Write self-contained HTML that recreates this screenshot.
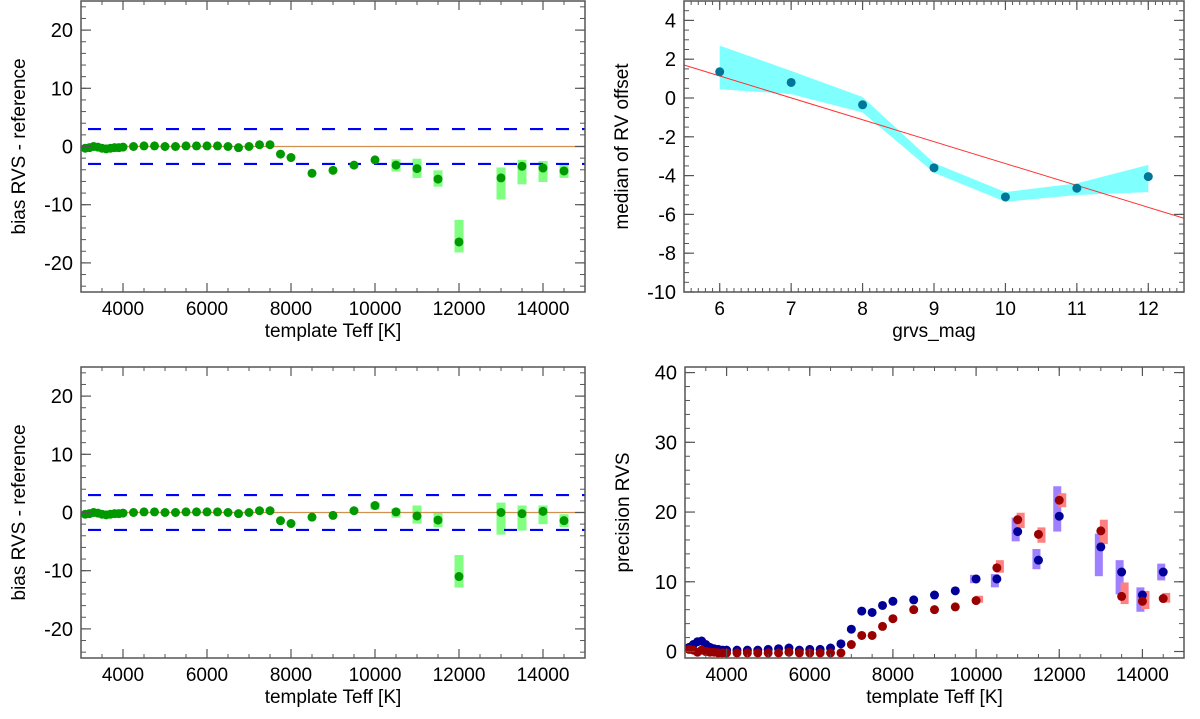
<!DOCTYPE html>
<html><head><meta charset="utf-8"><style>
html,body{margin:0;padding:0;background:#fff;}
svg{display:block;font-family:"Liberation Sans",Arial,sans-serif;}
</style></head><body>
<svg id="fig" width="1200" height="719" viewBox="0 0 1200 719" xmlns="http://www.w3.org/2000/svg"></svg>
<script>
// ---------- data ----------
const tlTeff = [3100,3200,3300,3400,3500,3600,3700,3800,3900,4000,4250,4500,4750,5000,5250,5500,5750,6000,6250,6500,6750,7000,7250,7500,7750,8000,8500,9000,9500,10000,10500,11000,11500,12000,13000,13500,14000,14500];
const tlBias = [-0.3,-0.2,0,-0.1,-0.3,-0.4,-0.3,-0.2,-0.2,-0.1,0,0.1,0.1,0,0,0.1,0.1,0.1,0.1,0,-0.2,0,0.3,-1.3,-1.9,-4.6,-4.1,-3.2,-2.3,-3.2,-3.8,-5.6,-16.4,-5.4,-3.4,-3.7,-4.2].slice(0);
const tlBiasFull = [-0.3,-0.2,0,-0.1,-0.3,-0.4,-0.3,-0.2,-0.2,-0.1,0,0.1,0.1,0,0,0.1,0.1,0.1,0.1,0,-0.2,0,0.3,0.3,-1.3,-1.9,-4.6,-4.1,-3.2,-2.3,-3.2,-3.8,-5.6,-16.4,-5.4,-3.4,-3.7,-4.2];
const tlErrHi = [null,null,null,null,null,null,null,null,null,null,null,null,null,null,null,null,null,null,null,null,null,null,null,null,null,null,null,null,null,null,-2.2,-2.1,-4.1,-12.6,-3.6,-2.3,-2.5,-3.2];
const tlErrLo = [null,null,null,null,null,null,null,null,null,null,null,null,null,null,null,null,null,null,null,null,null,null,null,null,null,null,null,null,null,null,-4.3,-5.4,-6.9,-18.2,-9.1,-6.5,-6.1,-5.4];

const blBias = [-0.3,-0.2,0,-0.1,-0.3,-0.4,-0.3,-0.2,-0.2,-0.1,0,0.1,0.1,0,0,0.1,0.1,0.1,0.1,0,-0.2,0,0.3,0.3,-1.4,-1.9,-0.8,-0.5,0.3,1.2,0.1,-0.6,-1.3,-11.0,0,-0.2,0.2,-1.4];
const blErrHi = [null,null,null,null,null,null,null,null,null,null,null,null,null,null,null,null,null,null,null,null,null,null,null,null,null,null,null,null,null,1.7,0.7,1.2,0.1,-7.3,1.7,1.2,1.2,-0.3];
const blErrLo = [null,null,null,null,null,null,null,null,null,null,null,null,null,null,null,null,null,null,null,null,null,null,null,null,null,null,null,null,null,0.5,-0.9,-1.9,-2.5,-12.9,-3.8,-3.1,-2.0,-2.5];

const trMag = [6,7,8,9,10,11,12];
const trMedian = [1.35,0.8,-0.35,-3.6,-5.1,-4.65,-4.05];
const trBandHi = [2.7,1.4,0.05,-3.35,-4.85,-4.4,-3.45];
const trBandLo = [0.45,0.2,-0.75,-3.85,-5.35,-5.0,-4.85];
const trFitX = [5.5,12.5];
const trFitY = [1.7,-6.2];

const brTeff = [3100,3200,3300,3400,3500,3600,3700,3800,3900,4000,4250,4500,4750,5000,5250,5500,5750,6000,6250,6500,6750,7000,7250,7500,7750,8000,8500,9000,9500,10000,10500,11000,11500,12000,13000,13500,14000,14500];
const brBlue = [0.6,1.0,1.4,1.5,1.0,0.6,0.4,0.3,0.2,0.2,0.2,0.2,0.2,0.3,0.4,0.5,0.2,0.3,0.3,0.5,1.1,3.2,5.8,5.6,6.6,7.2,7.4,8.1,8.7,10.4,10.4,17.2,13.1,19.4,15.0,11.4,8.1,11.4];
const brRed = [0.3,0.2,-0.1,0.2,0,-0.1,-0.1,-0.2,-0.2,-0.2,-0.2,-0.2,-0.2,-0.2,-0.2,-0.1,-0.2,-0.2,-0.2,-0.2,-0.2,1.0,2.3,2.3,3.6,4.7,6.0,6.0,6.4,7.3,12.0,18.9,16.8,21.7,17.3,7.9,7.2,7.6];
const brBlueHi = [null,null,null,null,null,null,null,null,null,null,null,null,null,null,null,null,null,null,null,null,null,null,null,null,null,null,null,null,null,11.0,11.1,19.2,14.7,23.7,16.9,13.1,9.2,12.6];
const brBlueLo = [null,null,null,null,null,null,null,null,null,null,null,null,null,null,null,null,null,null,null,null,null,null,null,null,null,null,null,null,null,9.8,9.2,15.8,11.8,17.2,10.8,8.2,5.7,10.2];
const brRedHi = [null,null,null,null,null,null,null,null,null,null,null,null,null,null,null,null,null,null,null,null,null,null,null,null,null,null,null,null,null,8.0,13.1,19.9,17.8,22.7,18.9,9.9,8.7,8.4];
const brRedLo = [null,null,null,null,null,null,null,null,null,null,null,null,null,null,null,null,null,null,null,null,null,null,null,null,null,null,null,null,null,7.0,11.3,17.7,15.6,20.7,15.4,6.8,6.1,7.0];

const teffTicks = [4000,6000,8000,10000,12000,14000];
const biasTicks = [-20,-10,0,10,20];
const magTicks = [6,7,8,9,10,11,12];
const medTicks = [-10,-8,-6,-4,-2,0,2,4];
const precTicks = [0,10,20,30,40];

// ---------- helpers ----------
const NS = "http://www.w3.org/2000/svg";
const svg = document.getElementById('fig');
function mk(tag, attrs, parent){
  const e = document.createElementNS(NS, tag);
  for (const k in attrs) e.setAttribute(k, attrs[k]);
  (parent||svg).appendChild(e);
  return e;
}
function scale(d0,d1,r0,r1){ return v => r0 + (v-d0)/(d1-d0)*(r1-r0); }

function panel(name, box, xd, yd, xt, xminor, yt, yminor, xlabel, ylabel){
  const g = mk('g', {});
  
  
  const X = scale(xd[0],xd[1],box.x0,box.x1);
  const Y = scale(yd[0],yd[1],box.y1,box.y0);
  const data = mk('g', {}, g);
  
  
  const axes = mk('g', {}, g);
  
  
  mk('rect', {x:box.x0, y:box.y0, width:box.x1-box.x0, height:box.y1-box.y0, fill:'none', stroke:'#555', 'stroke-width':1.5}, axes);
  const tk = '#555';
  // minor ticks
  for (let v = Math.ceil(xd[0]/xminor)*xminor; v <= xd[1]+1e-9; v += xminor){
    const x = X(v);
    mk('line',{x1:x,x2:x,y1:box.y1,y2:box.y1-4,stroke:tk,'stroke-width':1},axes);
    mk('line',{x1:x,x2:x,y1:box.y0,y2:box.y0+4,stroke:tk,'stroke-width':1},axes);
  }
  for (let v = Math.ceil(yd[0]/yminor)*yminor; v <= yd[1]+1e-9; v += yminor){
    const y = Y(v);
    mk('line',{x1:box.x0,x2:box.x0+5,y1:y,y2:y,stroke:tk,'stroke-width':1},axes);
    mk('line',{x1:box.x1,x2:box.x1-5,y1:y,y2:y,stroke:tk,'stroke-width':1},axes);
  }
  xt.forEach(v=>{
    const x = X(v);
    mk('line',{x1:x,x2:x,y1:box.y1,y2:box.y1-9,stroke:tk,'stroke-width':1.2},axes);
    mk('line',{x1:x,x2:x,y1:box.y0,y2:box.y0+9,stroke:tk,'stroke-width':1.2},axes);
    const t = mk('text',{x:x,y:box.y1+23,'font-size':19,'text-anchor':'middle',fill:'#000'},axes);
    t.textContent = v;
    
    
  });
  yt.forEach(v=>{
    const y = Y(v);
    mk('line',{x1:box.x0,x2:box.x0+10,y1:y,y2:y,stroke:tk,'stroke-width':1.2},axes);
    mk('line',{x1:box.x1,x2:box.x1-10,y1:y,y2:y,stroke:tk,'stroke-width':1.2},axes);
    const t = mk('text',{x:box.x0-8,y:y+7,'font-size':20,'text-anchor':'end',fill:'#000'},axes);
    t.textContent = v;
    
    
  });
  const xl = mk('text',{x:(box.x0+box.x1)/2,y:box.y1+26+19,'font-size':19,'text-anchor':'middle'},axes);
  xl.textContent = xlabel;
  
  
  const yx = box.x0 - 56, yy = (box.y0+box.y1)/2;
  const yl = mk('text',{x:yx,y:yy,'font-size':19,'text-anchor':'middle',transform:`rotate(-90 ${yx} ${yy})`},axes);
  yl.textContent = ylabel;
  
  
  return {X,Y,data,box};
}

function biasPanel(name, box, vals, hi, lo){
  const p = panel(name, box, [3000,15000], [-25,25], teffTicks, 500, biasTicks, 2, 'template Teff [K]', 'bias RVS - reference');
  const {X,Y,data} = p;
  tlTeff.forEach((t,i)=>{
    if (hi[i]!==null){
      const r = mk('rect',{x:X(t)-4.5,y:Y(hi[i]),width:9,height:Y(lo[i])-Y(hi[i]),fill:'#80ff80'},data);
      
      
    }
  });
  const zl = mk('line',{x1:X(3000),x2:X(15000),y1:Y(0),y2:Y(0),stroke:'#d09050','stroke-width':1.2},data);
  
  
  [3,-3].forEach(v=>{
    const l = mk('line',{x1:X(3000),x2:X(15000),y1:Y(v),y2:Y(v),stroke:'#0000ff','stroke-width':2.2,'stroke-dasharray':'13,13','stroke-dashoffset':-7},data);
    
    
  });
  tlTeff.forEach((t,i)=>{
    const c = mk('circle',{cx:X(t),cy:Y(vals[i]),r:4.5,fill:'#009900'},data);
    
    
  });
}

biasPanel('top-left-panel', {x0:81,x1:585,y0:1,y1:292}, tlBiasFull, tlErrHi, tlErrLo);
biasPanel('bottom-left-panel', {x0:81,x1:585,y0:367,y1:658}, blBias, blErrHi, blErrLo);

// top-right
(function(){
  const p = panel('top-right-panel', {x0:684,x1:1184,y0:1,y1:292}, [5.5,12.5], [-10,5], magTicks, 0.1, medTicks, 0.5, 'grvs_mag', 'median of RV offset');
  const {X,Y,data} = p;
  let d = '';
  trMag.forEach((m,i)=>{ d += (i?'L':'M') + X(m) + ',' + Y(trBandHi[i]); });
  for (let i=trMag.length-1;i>=0;i--) d += 'L' + X(trMag[i]) + ',' + Y(trBandLo[i]);
  d += 'Z';
  const band = mk('path',{d:d,fill:'#80ffff'},data);
  
  
  const fit = mk('line',{x1:X(trFitX[0]),y1:Y(trFitY[0]),x2:X(trFitX[1]),y2:Y(trFitY[1]),stroke:'#ff3030','stroke-width':1},data);
  
  
  trMag.forEach((m,i)=>{
    const c = mk('circle',{cx:X(m),cy:Y(trMedian[i]),r:4.5,fill:'#007799'},data);
    
    
  });
})();

// bottom-right
(function(){
  const p = panel('bottom-right-panel', {x0:685,x1:1184,y0:367,y1:658}, [3000,15000], [-0.93,40.8], teffTicks, 500, precTicks, 2, 'template Teff [K]', 'precision RVS');
  const {X,Y,data} = p;
  brTeff.forEach((t,i)=>{
    if (brBlueHi[i]!==null){
      const r = mk('rect',{x:X(t)-6,y:Y(brBlueHi[i]),width:8,height:Y(brBlueLo[i])-Y(brBlueHi[i]),fill:'#9f80ff'},data);
      
      
    }
    if (brRedHi[i]!==null){
      const r = mk('rect',{x:X(t)-1,y:Y(brRedHi[i]),width:8,height:Y(brRedLo[i])-Y(brRedHi[i]),fill:'#ff8080'},data);
      
      
    }
  });
  brTeff.forEach((t,i)=>{
    const c = mk('circle',{cx:X(t),cy:Y(brBlue[i]),r:4.5,fill:'#000099'},data);
    
    
  });
  brTeff.forEach((t,i)=>{
    const c = mk('circle',{cx:X(t),cy:Y(brRed[i]),r:4.5,fill:'#990000'},data);
    
    
  });
})();
</script>
</body></html>
